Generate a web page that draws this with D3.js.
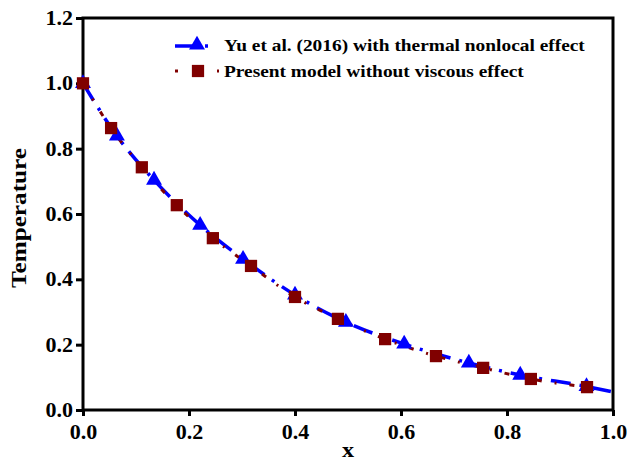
<!DOCTYPE html>
<html><head><meta charset="utf-8">
<script src="https://cdn.jsdelivr.net/npm/d3@7"></script>
<style>body{margin:0;background:#fff}svg{display:block}text{font-family:"Liberation Serif","Times New Roman",serif;font-weight:bold}</style>
</head><body><div id="c"></div>
<script>
const xTicks = [0.0, 0.2, 0.4, 0.6, 0.8, 1.0];
const yTicks = [0.0, 0.2, 0.4, 0.6, 0.8, 1.0, 1.2];
const seriesNames = ["Yu et al. (2016) with thermal nonlocal effect", "Present model without viscous effect"];
// Yu et al. curve (last point is the curve end, no marker)
const yuX = [0.0, 0.064, 0.134, 0.221, 0.302, 0.400, 0.496, 0.606, 0.728, 0.825, 0.950, 1.0];
const yuY = [1.0, 0.839, 0.704, 0.566, 0.462, 0.352, 0.269, 0.202, 0.144, 0.107, 0.072, 0.055];
// Present model
const prX = [0.0, 0.053, 0.111, 0.177, 0.245, 0.317, 0.400, 0.481, 0.570, 0.666, 0.755, 0.845, 0.951, 0.970];
const prY = [1.0, 0.863, 0.743, 0.627, 0.526, 0.441, 0.346, 0.279, 0.217, 0.165, 0.129, 0.095, 0.070, 0.066];

const W = 627, H = 463;
const m = {l: 83, r: 14, t: 18, b: 53};
const svg = d3.select("#c").append("svg").attr("width", W).attr("height", H);
const x = d3.scaleLinear().domain([0, 1]).range([m.l, W - m.r]);
const y = d3.scaleLinear().domain([0, 1.2]).range([H - m.b, m.t]);

const gx = svg.append("g").attr("transform", `translate(0,${H - m.b})`)
  .call(d3.axisBottom(x).tickValues(xTicks).tickFormat(d3.format(".1f")).tickSize(6).tickPadding(9));
const gy = svg.append("g").attr("transform", `translate(${m.l},0)`)
  .call(d3.axisLeft(y).tickValues(yTicks).tickFormat(d3.format(".1f")).tickSize(7).tickPadding(2));
[gx, gy].forEach(g => {
  g.select(".domain").remove();
  g.selectAll(".tick line").attr("stroke", "#000").attr("stroke-width", 3);
  g.selectAll(".tick text").attr("font-size", 20).attr("fill", "#000")
    .attr("font-family", "Liberation Serif, serif").attr("font-weight", "bold")
    .attr("transform", "scale(1.1,1)");
});
// frame
svg.append("rect").attr("x", x(0)).attr("y", y(1.2)).attr("width", x(1) - x(0)).attr("height", y(0) - y(1.2))
  .attr("fill", "none").attr("stroke", "#000").attr("stroke-width", 3);

// axis titles
svg.append("text").attr("transform", `translate(${(x(0) + x(1)) / 2},457) scale(1.15,1)`).attr("text-anchor", "middle")
  .attr("font-size", 21).text("x");
svg.append("text").attr("transform", `translate(26,218) rotate(-90) scale(1.2,1)`)
  .attr("text-anchor", "middle").attr("font-size", 21).text("Temperature");

const yu = yuX.map((v, i) => [v, yuY[i]]);
const pr = prX.map((v, i) => [v, prY[i]]);
const line = d3.line().x(d => x(d[0])).y(d => y(d[1])).curve(d3.curveMonotoneX);

const blue = "#0000ff", red = "#800000";
svg.append("path").datum(yu).attr("d", line).attr("fill", "none").attr("stroke", blue)
  .attr("stroke-width", 3.5).attr("stroke-dasharray", "20,9,3,9");
svg.append("path").datum(pr).attr("d", line).attr("fill", "none").attr("stroke", red)
  .attr("stroke-width", 3).attr("stroke-dasharray", "5,13,2,13");

const tri = d3.symbol().type(d3.symbolTriangle).size(110);
const sq = d3.symbol().type(d3.symbolSquare).size(150);
svg.append("g").selectAll("path").data(yu.slice(0, -1)).join("path")
  .attr("d", tri).attr("transform", d => `translate(${x(d[0])},${y(d[1])})`).attr("fill", blue);
svg.append("g").selectAll("path").data(pr.slice(0, -1)).join("path")
  .attr("d", sq).attr("transform", d => `translate(${x(d[0])},${y(d[1])})`).attr("fill", red);

// legend
const lg = svg.append("g");
lg.append("line").attr("x1", 175).attr("x2", 200).attr("y1", 46).attr("y2", 46).attr("stroke", blue).attr("stroke-width", 3.5);
lg.append("line").attr("x1", 205).attr("x2", 208).attr("y1", 46).attr("y2", 46).attr("stroke", blue).attr("stroke-width", 3.5);
lg.append("path").attr("d", tri).attr("transform", "translate(197,45)").attr("fill", blue);
lg.append("text").attr("transform", "translate(224,51) scale(1.14,1)").attr("font-size", 17).text(seriesNames[0]);
lg.append("line").attr("x1", 175).attr("x2", 178).attr("y1", 71).attr("y2", 71).attr("stroke", red).attr("stroke-width", 3);
lg.append("path").attr("d", sq).attr("transform", "translate(198,71)").attr("fill", red);
lg.append("line").attr("x1", 217).attr("x2", 219).attr("y1", 71).attr("y2", 71).attr("stroke", red).attr("stroke-width", 3);
lg.append("text").attr("transform", "translate(224,77) scale(1.14,1)").attr("font-size", 17).text(seriesNames[1]);
</script></body></html>
